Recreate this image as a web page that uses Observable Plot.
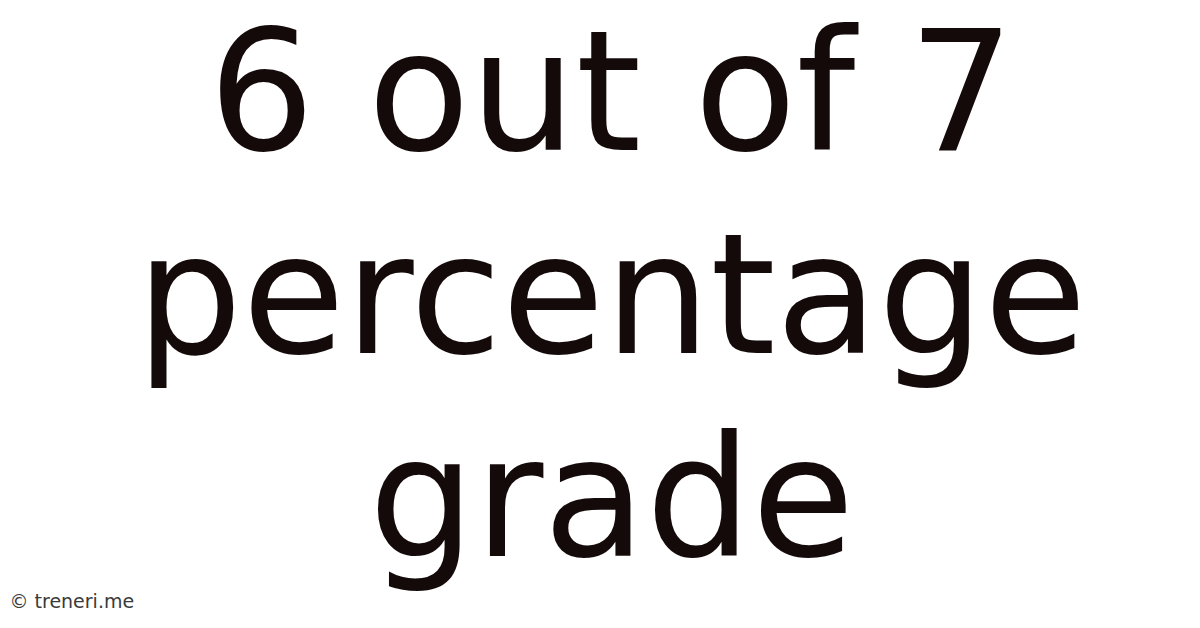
<!DOCTYPE html>
<html>
<head>
<meta charset="utf-8">
<script src="https://cdn.jsdelivr.net/npm/d3@7"></script>
<script src="https://cdn.jsdelivr.net/npm/@observablehq/plot@0.6"></script>
<style>
  html, body { margin: 0; padding: 0; background: #ffffff; }
  #chart svg { display: block; }
</style>
</head>
<body>
<div id="chart"></div>
<script>
const titleLines = ["6 out of 7", "percentage", "grade"];
const lineIndex = [0, 1, 2];
const footer = ["© treneri.me"];

const rows = titleLines.map((t, i) => ({text: t, idx: lineIndex[i]}));

const chart = Plot.plot({
  width: 1200,
  height: 628,
  margin: 0,
  style: {background: "#ffffff", fontFamily: "'DejaVu Sans', sans-serif"},
  x: {domain: [0, 1], range: [0, 1200], axis: null},
  y: {domain: [0, 2], range: [149, 555], axis: null},
  marks: [
    Plot.text(rows, {
      x: () => 0.5,
      y: "idx",
      text: "text",
      textAnchor: "middle",
      lineAnchor: "bottom",
      fontSize: 167,
      fill: "#140a0a",
      dx: 11
    }),
    Plot.text(footer, {
      frameAnchor: "bottom-left",
      text: d => d,
      textAnchor: "start",
      lineAnchor: "bottom",
      fontSize: 19,
      fill: "#3a3a3a",
      dx: 9,
      dy: -21
    })
  ]
});
document.getElementById("chart").appendChild(chart);
</script>
</body>
</html>
